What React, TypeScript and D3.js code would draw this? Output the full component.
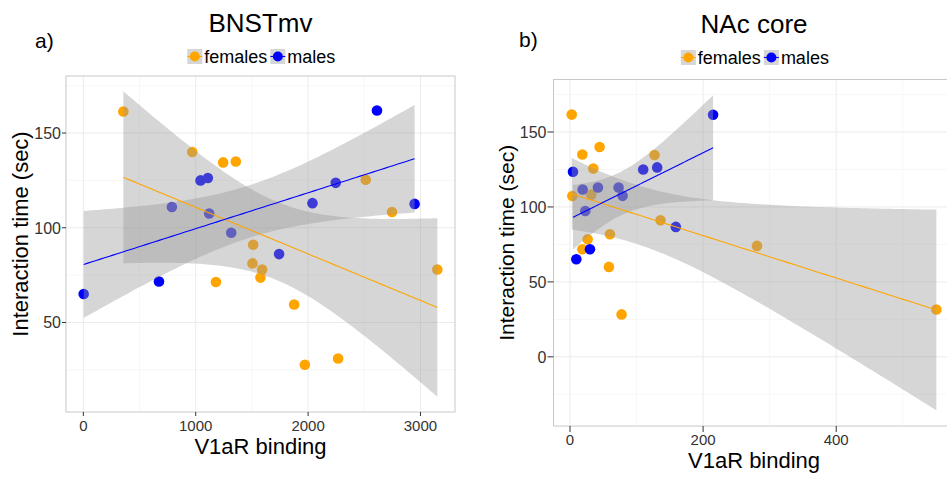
import React, { useEffect, useRef } from 'react';
import * as d3 from 'd3';

// BNSTmv panel (a)
const bnstFemaleBinding = [356, 969, 1244, 1357, 2513, 2747, 1511, 1505, 1591, 1180, 1576, 1876, 1971, 2267, 3150];
const bnstFemaleTime = [161.4, 140, 134.5, 135, 125.4, 108.3, 91, 81.2, 78, 71.4, 73.7, 59.5, 27.7, 31, 78];
const bnstMaleBinding = [2613, 1043, 1108, 788, 1120, 1316, 2246, 2039, 2948, 1742, 673, 3];
const bnstMaleTime = [161.9, 125, 126.3, 111, 107.5, 97.4, 123.7, 113, 112.6, 86.1, 71.6, 65];

// NAc core panel (b)
const nacFemaleBinding = [2.6, 18.5, 44.5, 35, 3.5, 32, 127, 136, 60, 26.5, 18.5, 281, 58.5, 77.5, 550.5];
const nacFemaleTime = [161.6, 135, 140, 125.6, 107.3, 108.2, 134.7, 91.1, 81.8, 78.5, 71.8, 74, 60, 28.3, 31.6];
const nacMaleBinding = [215, 4.5, 110, 131, 19, 42, 73, 79, 23, 159, 30, 9.5];
const nacMaleTime = [161.5, 123.5, 125, 126.4, 111.6, 113, 113, 107.4, 97.3, 86.7, 71.8, 65.1];

const groups = ['females', 'males'];
const groupColors = ['#FFA500', '#0000FF'];

// 97.5% t quantiles by residual degrees of freedom
const T975: Record<number, number> = { 10: 2.228, 13: 2.160 };

interface Pt { x: number; y: number; g: number; }
interface BandPt { x: number; fit: number; lo: number; hi: number; }

function fitLm(xs: number[], ys: number[], steps = 80): BandPt[] {
    const n = xs.length;
    const mx = d3.mean(xs) as number;
    const my = d3.mean(ys) as number;
    let sxx = 0, sxy = 0;
    xs.forEach((x, i) => { sxx += (x - mx) ** 2; sxy += (x - mx) * (ys[i] - my); });
    const b = sxy / sxx;
    const a = my - b * mx;
    let sse = 0;
    xs.forEach((x, i) => { sse += (ys[i] - a - b * x) ** 2; });
    const s = Math.sqrt(sse / (n - 2));
    const t = T975[n - 2] ?? 2.2;
    const [x0, x1] = d3.extent(xs) as [number, number];
    return d3.range(steps).map(k => {
        const x = x0 + (x1 - x0) * k / (steps - 1);
        const fit = a + b * x;
        const se = s * Math.sqrt(1 / n + (x - mx) ** 2 / sxx);
        return { x, fit, lo: fit - t * se, hi: fit + t * se };
    });
}

interface PanelSpec {
    tag: string;
    title: string;
    fx: number[]; fy: number[]; mx: number[]; my: number[];
    left: number; top: number; right: number; bottom: number;
    xTicks: number; yTicks: number;
    tagX: number; tagY: number; titleY: number; legendY: number;
    xLabY: number; xTitleY: number; yTitleX: number; yTitleSize: number;
    tickLen: number;
}

const panels: PanelSpec[] = [
    {
        tag: 'a)', title: 'BNSTmv',
        fx: bnstFemaleBinding, fy: bnstFemaleTime, mx: bnstMaleBinding, my: bnstMaleTime,
        left: 66, top: 76, right: 455, bottom: 412, xTicks: 4, yTicks: 4,
        tagX: 35, tagY: 48, titleY: 32, legendY: 63,
        xLabY: 431, xTitleY: 454, yTitleX: 28, yTitleSize: 22, tickLen: 4,
    },
    {
        tag: 'b)', title: 'NAc core',
        fx: nacFemaleBinding, fy: nacFemaleTime, mx: nacMaleBinding, my: nacMaleTime,
        left: 553.5, top: 79.5, right: 954.6, bottom: 426, xTicks: 3, yTicks: 5,
        tagX: 519, tagY: 47, titleY: 33, legendY: 64,
        xLabY: 445, xTitleY: 468, yTitleX: 514, yTitleSize: 21, tickLen: 6,
    },
];

const FONT = '"Liberation Sans", Arial, Helvetica, sans-serif';

function minorTicks(major: number[], domain: number[]): number[] {
    const step = major[1] - major[0];
    const out: number[] = [];
    for (let v = major[0] - step / 2; v <= domain[1]; v += step) {
        if (v >= domain[0]) out.push(v);
    }
    return out;
}

const App: React.FC = () => {
    const svgRef = useRef<SVGSVGElement | null>(null);

    useEffect(() => {
        if (!svgRef.current) return;
        const svg = d3.select(svgRef.current);
        svg.selectAll('*').remove();
        svg.append('rect').attr('width', 947).attr('height', 477).attr('fill', '#fff');

        panels.forEach((p, pi) => {
            const pts: Pt[] = [
                ...p.fx.map((x, i) => ({ x, y: p.fy[i], g: 0 })),
                ...p.mx.map((x, i) => ({ x, y: p.my[i], g: 1 })),
            ];
            const fits = [fitLm(p.fx, p.fy), fitLm(p.mx, p.my)];

            const xExt = d3.extent(pts, d => d.x) as [number, number];
            const yLo = Math.min(d3.min(pts, d => d.y) as number, ...fits.map(f => d3.min(f, d => d.lo) as number));
            const yHi = Math.max(d3.max(pts, d => d.y) as number, ...fits.map(f => d3.max(f, d => d.hi) as number));
            const xPad = (xExt[1] - xExt[0]) * 0.05;
            const yPad = (yHi - yLo) * 0.05;

            const x = d3.scaleLinear().domain([xExt[0] - xPad, xExt[1] + xPad]).range([p.left, p.right]);
            const y = d3.scaleLinear().domain([yLo - yPad, yHi + yPad]).range([p.bottom, p.top]);

            const g = svg.append('g').attr('class', `panel-${pi}`);
            const clipId = `clip-${pi}`;
            g.append('clipPath').attr('id', clipId).append('rect')
                .attr('x', p.left).attr('y', p.top)
                .attr('width', p.right - p.left).attr('height', p.bottom - p.top);

            const xMajor = x.ticks(p.xTicks);
            const yMajor = y.ticks(p.yTicks);
            const xMinor = minorTicks(xMajor, x.domain());
            const yMinor = minorTicks(yMajor, y.domain());

            const grid = g.append('g');
            grid.selectAll('.vminor').data(xMinor).enter().append('line')
                .attr('x1', d => x(d)).attr('x2', d => x(d)).attr('y1', p.top).attr('y2', p.bottom)
                .attr('stroke', '#f5f5f5').attr('stroke-width', 0.8);
            grid.selectAll('.hminor').data(yMinor).enter().append('line')
                .attr('y1', d => y(d)).attr('y2', d => y(d)).attr('x1', p.left).attr('x2', p.right)
                .attr('stroke', '#f5f5f5').attr('stroke-width', 0.8);
            grid.selectAll('.vmajor').data(xMajor).enter().append('line')
                .attr('x1', d => x(d)).attr('x2', d => x(d)).attr('y1', p.top).attr('y2', p.bottom)
                .attr('stroke', '#ebebeb').attr('stroke-width', 1);
            grid.selectAll('.hmajor').data(yMajor).enter().append('line')
                .attr('y1', d => y(d)).attr('y2', d => y(d)).attr('x1', p.left).attr('x2', p.right)
                .attr('stroke', '#ebebeb').attr('stroke-width', 1);

            const plot = g.append('g').attr('clip-path', `url(#${clipId})`);

            plot.selectAll('circle').data(pts).enter().append('circle')
                .attr('cx', d => x(d.x)).attr('cy', d => y(d.y)).attr('r', 5.3)
                .attr('fill', d => groupColors[d.g]);

            const area = d3.area<BandPt>().x(d => x(d.x)).y0(d => y(d.lo)).y1(d => y(d.hi));
            fits.forEach(f => {
                plot.append('path').attr('d', area(f)).attr('fill', '#999999').attr('fill-opacity', 0.4);
            });
            const line = d3.line<BandPt>().x(d => x(d.x)).y(d => y(d.fit));
            fits.forEach((f, gi) => {
                plot.append('path').attr('d', line(f)).attr('fill', 'none')
                    .attr('stroke', groupColors[gi]).attr('stroke-width', 1.1);
            });

            g.append('rect').attr('x', p.left).attr('y', p.top)
                .attr('width', p.right - p.left).attr('height', p.bottom - p.top)
                .attr('fill', 'none').attr('stroke', '#c8c8c8').attr('stroke-width', 1);

            // axes
            const ax = g.append('g').attr('font-family', FONT).attr('fill', '#333');
            ax.selectAll('.xt').data(xMajor).enter().append('line')
                .attr('x1', d => x(d)).attr('x2', d => x(d)).attr('y1', p.bottom).attr('y2', p.bottom + p.tickLen)
                .attr('stroke', '#333').attr('stroke-width', 1);
            ax.selectAll('.xl').data(xMajor).enter().append('text')
                .attr('x', d => x(d)).attr('y', p.xLabY).attr('text-anchor', 'middle')
                .attr('font-size', 15).text(d => d3.format('d')(d));
            ax.selectAll('.yt').data(yMajor).enter().append('line')
                .attr('y1', d => y(d)).attr('y2', d => y(d)).attr('x1', p.left - p.tickLen).attr('x2', p.left)
                .attr('stroke', '#333').attr('stroke-width', 1);
            ax.selectAll('.yl').data(yMajor).enter().append('text')
                .attr('x', p.left - p.tickLen - 1).attr('y', d => y(d)).attr('dy', '0.36em')
                .attr('text-anchor', 'end').attr('font-size', 16).text(d => d3.format('d')(d));

            const cx = (p.left + p.right) / 2;
            const cy = (p.top + p.bottom) / 2;
            g.append('text').attr('x', cx).attr('y', p.xTitleY).attr('text-anchor', 'middle')
                .attr('font-family', FONT).attr('font-size', 22).attr('fill', '#000').text('V1aR binding');
            g.append('text').attr('transform', `translate(${p.yTitleX},${cy - 10}) rotate(-90)`)
                .attr('text-anchor', 'middle').attr('font-family', FONT)
                .attr('font-size', p.yTitleSize).attr('fill', '#000').text('Interaction time (sec)');

            g.append('text').attr('x', cx).attr('y', p.titleY).attr('text-anchor', 'middle')
                .attr('font-family', FONT).attr('font-size', 26).attr('fill', '#000').text(p.title);
            g.append('text').attr('x', p.tagX).attr('y', p.tagY)
                .attr('font-family', FONT).attr('font-size', 21).attr('fill', '#000').text(p.tag);

            // legend
            const lg = g.append('g').attr('font-family', FONT).attr('font-size', 18);
            const keySize = 15;
            const widths = groups.map(name => name.length * 9.2);
            const total = groups.length * (keySize + 3) + d3.sum(widths) + 4;
            let lx = cx + 2 - total / 2;
            groups.forEach((name, gi) => {
                const ky = p.legendY - keySize + 1;
                lg.append('rect').attr('x', lx).attr('y', ky).attr('width', keySize).attr('height', keySize)
                    .attr('fill', '#d6d6d6');
                lg.append('line').attr('x1', lx).attr('x2', lx + keySize)
                    .attr('y1', ky + keySize / 2).attr('y2', ky + keySize / 2)
                    .attr('stroke', groupColors[gi]).attr('stroke-width', 1.1);
                lg.append('circle').attr('cx', lx + keySize / 2).attr('cy', ky + keySize / 2).attr('r', 5)
                    .attr('fill', groupColors[gi]);
                const t = lg.append('text').attr('x', lx + keySize + 2).attr('y', p.legendY).attr('fill', '#000').text(name);
                const w = (t.node() as SVGTextElement).getComputedTextLength();
                lx += keySize + 2 + w + 3;
            });
        });
    }, []);

    return (
        <div style={{ position: 'absolute', left: 0, top: 0, width: 947, height: 477, overflow: 'hidden' }}>
            <svg ref={svgRef} width={947} height={477} />
        </div>
    );
};

export default App;
